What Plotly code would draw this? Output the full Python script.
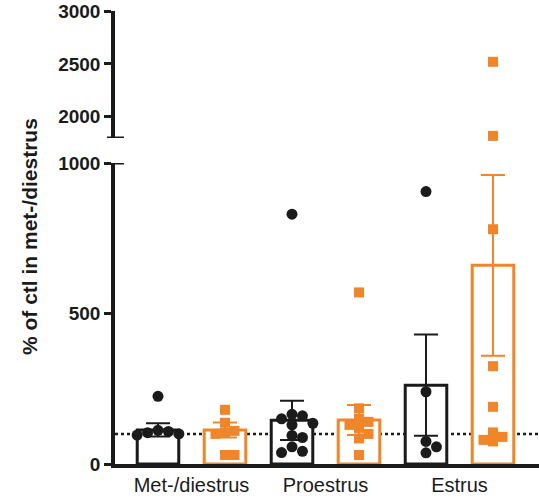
import plotly.graph_objects as go
import math

# ---------------- data ----------------
groups = ["Met-/diestrus", "Proestrus", "Estrus"]
black_means = [113, 145, 262]
black_sem = [22, 65, 168]
orange_means = [113, 146, 660]
orange_sem = [25, 50, 300]
black_points = [
    [225, 112, 108, 104, 100, 96],
    [830, 165, 160, 135, 130, 150, 95, 88, 57, 42, 38],
    [905, 240, 75, 57, 37],
]
orange_points = [
    [180, 137, 110, 103, 100, 30, 30],
    [570, 185, 150, 140, 130, 120, 100, 85, 30],
    [2520, 1820, 780, 325, 190, 105, 80, 75, 90],
]
lower_ticks = [0, 500, 1000]
upper_ticks = [2000, 2500, 3000]
baseline = 100
BREAK = 1000

BLACK = "#1b1b1b"
ORANGE = "#F0852A"
FONT = "Liberation Sans"

# ---------------- geometry helpers ----------------
PX_PER_X = 67.0
PX_PER_Y = 301.0 / 1000.0


def swarm(vals, center, size_px=11.0):
    placed = []
    xs = [center] * len(vals)
    order = sorted(range(len(vals)), key=lambda i: -vals[i])
    for i in order:
        yp = vals[i] * PX_PER_Y if vals[i] <= BREAK else vals[i]
        cands = [0]
        for k in range(1, 8):
            cands += [k * size_px * 0.95, -k * size_px * 0.95]
        chosen = 0
        for off in cands:
            if all(math.hypot(off - px, yp - py) >= size_px * 0.9 for px, py in placed):
                chosen = off
                break
        placed.append((chosen, yp))
        xs[i] = center + chosen / PX_PER_X
    return xs


fig = go.Figure()

black_x = [2 * i for i in range(len(groups))]
orange_x = [2 * i + 1 for i in range(len(groups))]

fig.add_trace(go.Bar(
    x=black_x, y=black_means, width=0.62,
    marker=dict(color="white", line=dict(color=BLACK, width=3)),
    error_y=dict(type="data", array=black_sem, color=BLACK, thickness=2, width=12),
    showlegend=False,
))
fig.add_trace(go.Bar(
    x=orange_x, y=orange_means, width=0.62,
    marker=dict(color="white", line=dict(color=ORANGE, width=3)),
    error_y=dict(type="data", array=orange_sem, color=ORANGE, thickness=2, width=12),
    showlegend=False,
))

for pts_list, xs_c, color, symbol, size in [
    (black_points, black_x, BLACK, "circle", 11),
    (orange_points, orange_x, ORANGE, "square", 10),
]:
    lx, ly, ux, uy = [], [], [], []
    for pts, c in zip(pts_list, xs_c):
        sx = swarm(pts, c, size_px=size)
        for v, xx in zip(pts, sx):
            if v <= BREAK:
                lx.append(xx); ly.append(v)
            else:
                ux.append(c); uy.append(v)
    fig.add_trace(go.Scatter(
        x=lx, y=ly, mode="markers",
        marker=dict(color=color, symbol=symbol, size=size, line=dict(width=0)),
        showlegend=False, cliponaxis=False,
    ))
    if ux:
        fig.add_trace(go.Scatter(
            x=ux, y=uy, mode="markers", xaxis="x", yaxis="y2",
            marker=dict(color=color, symbol=symbol, size=size, line=dict(width=0)),
            showlegend=False, cliponaxis=False,
        ))

W, H = 539, 503
ml, mr, mt, mb = 115, 0, 11, 39
plot_w = W - ml - mr
plot_h = H - mt - mb
lower_top = 301.0 / plot_h
upper_bottom = (301.0 + 25.0) / plot_h

x0 = -43.0 / PX_PER_X
x1 = x0 + plot_w / PX_PER_X

tick_font = dict(family=FONT, size=19, color=BLACK, weight="bold")

fig.update_layout(
    width=W, height=H,
    margin=dict(l=ml, r=mr, t=mt, b=mb, autoexpand=False),
    paper_bgcolor="white", plot_bgcolor="white",
    barmode="overlay",
    xaxis=dict(
        range=[x0, x1], showgrid=False, zeroline=False,
        showline=True, linecolor=BLACK, linewidth=3.5,
        tickvals=[2 * i + 0.5 for i in range(len(groups))], ticktext=groups,
        ticks="", tickfont=dict(family=FONT, size=20, color=BLACK),
        anchor="y", fixedrange=True, automargin=False, ticklabeloverflow="allow",
    ),
    yaxis=dict(
        domain=[0, lower_top], range=[0, BREAK],
        showgrid=False, zeroline=False,
        showline=True, linecolor=BLACK, linewidth=3.5,
        tickvals=lower_ticks, ticks="outside", ticklen=7, tickwidth=3, tickcolor=BLACK,
        tickfont=tick_font, anchor="x", automargin=False, ticklabeloverflow="allow",
    ),
    yaxis2=dict(
        domain=[upper_bottom, 1], range=[1800, 3000],
        showgrid=False, zeroline=False,
        showline=True, linecolor=BLACK, linewidth=3.5,
        tickvals=upper_ticks, ticks="outside", ticklen=7, tickwidth=3, tickcolor=BLACK,
        tickfont=tick_font, anchor="x", automargin=False, ticklabeloverflow="allow",
    ),
    shapes=[
        dict(type="line", xref="paper", yref="y", x0=0, x1=1, y0=baseline, y1=baseline,
             line=dict(color=BLACK, width=2.5, dash="dot"), layer="below"),
        dict(type="line", xref="paper", yref="y", x0=-8 / plot_w, x1=9 / plot_w, y0=BREAK, y1=BREAK,
             line=dict(color=BLACK, width=3)),
        dict(type="line", xref="paper", yref="y2", x0=-8 / plot_w, x1=9 / plot_w, y0=1800, y1=1800,
             line=dict(color=BLACK, width=3)),
    ],
    annotations=[
        dict(text="% of ctl in met-/diestrus", xref="paper", yref="paper",
             x=-86.0 / plot_w, y=227.0 / plot_h, textangle=-90,
             showarrow=False, xanchor="center", yanchor="middle",
             font=dict(family=FONT, size=21, color=BLACK, weight="bold")),
    ],
)

fig.write_html(
    "out.html",
    config={"displayModeBar": False},
    post_script="document.body.style.margin='0';document.body.style.padding='0';",
)
